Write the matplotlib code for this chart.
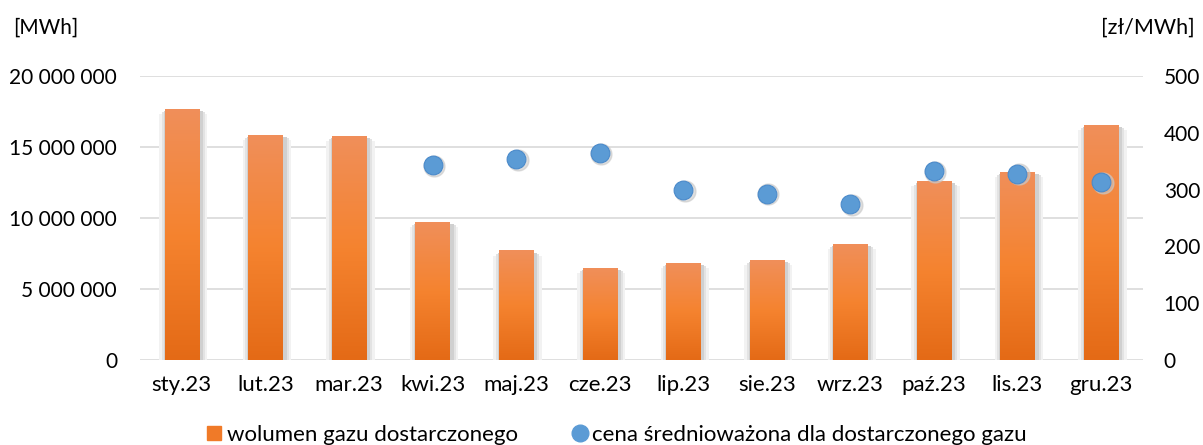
import numpy as np
import matplotlib
matplotlib.use("Agg")
import matplotlib.pyplot as plt
from matplotlib.colors import LinearSegmentedColormap
from matplotlib.patches import Rectangle
from matplotlib.ticker import FuncFormatter
from matplotlib.lines import Line2D

plt.rcParams['font.family'] = ['Lato', 'DejaVu Sans']

months = ['sty.23', 'lut.23', 'mar.23', 'kwi.23', 'maj.23', 'cze.23',
          'lip.23', 'sie.23', 'wrz.23', 'paź.23', 'lis.23', 'gru.23']
volume = [17680000, 15850000, 15770000, 9720000, 7680000, 6480000,
          6830000, 7040000, 8170000, 12560000, 13240000, 16550000]
price = [np.nan, np.nan, np.nan, 343, 354, 364, 299, 293, 275, 333, 328, 313]

vol_label = 'wolumen gazu dostarczonego'
price_label = 'cena średnioważona dla dostarczonego gazu'

fig = plt.figure(figsize=(12.03, 4.45), dpi=100)
ax = fig.add_axes([0.1164, 0.191, 0.8336, 0.638])
x = np.arange(len(months))
w = 0.41
px = 1.0 / 83.6  # one pixel in data x units

cmap = LinearSegmentedColormap.from_list('og', ['#E46A16', '#F5832F', '#F08F5A'])
grad = np.linspace(0, 1, 256).reshape(-1, 1)

ax.set_ylim(0, 20000000)
ax.set_xlim(-0.5, len(months) - 0.5)
ypx = 20000000 / 284.0

for xi, v in zip(x, volume):
    # soft shadow
    for k, (extra, col) in enumerate([(14, '#f2f2f2'), (9, '#e3e3e3'), (5, '#d0d0d0')]):
        ax.add_patch(Rectangle((xi - w / 2 - extra * px / 2 + 1.5 * px, -ypx * 3),
                               w + extra * px, v - ypx * (extra / 3 - 3), color=col,
                               lw=0, zorder=1.5 + k * 0.1))
    ax.imshow(grad, extent=[xi - w / 2, xi + w / 2, 0, v], origin='lower',
              cmap=cmap, aspect='auto', zorder=2, interpolation='bilinear')

ax.set_ylim(0, 20000000)
ax.set_xlim(-0.5, len(months) - 0.5)
ax.set_yticks(np.arange(0, 20000001, 5000000))
ax.yaxis.set_major_formatter(FuncFormatter(lambda v, p: f'{int(v):,}'.replace(',', ' ')))
ax.set_xticks(x)
ax.set_xticklabels(months)
ax.grid(axis='y', color='#d9d9d9', lw=1.2, zorder=0)
ax.set_axisbelow(True)
for s in ax.spines.values():
    s.set_visible(False)
ax.tick_params(axis='both', length=0, colors='#000000')
ax.tick_params(axis='y', pad=16.5, labelsize=15)
ax.tick_params(axis='x', pad=11, labelsize=16)

ax2 = ax.twinx()
ax2.set_ylim(0, 500)
ax2.set_yticks(np.arange(0, 501, 100))
for s in ax2.spines.values():
    s.set_visible(False)
ax2.tick_params(axis='y', length=0, labelsize=15, pad=15)
ax2.plot(x + 1.5 * px, np.array(price) - 1.2, 'o', ms=15, color='#c9c9c9', alpha=0.6, zorder=3, lw=0)
ax2.plot(x, price, 'o', ms=13.5, color='#5B9BD5', mec='#4A8ACB', mew=0.8, zorder=4, lw=0)

fig.text(0.011, 0.937, '[MWh]', fontsize=15, ha='left', va='center')
fig.text(0.993, 0.937, '[zł/MWh]', fontsize=15.5, ha='right', va='center')

handles = [Line2D([], [], marker='s', ls='', ms=10, color='#F07A28'),
           Line2D([], [], marker='o', ls='', ms=12, color='#5B9BD5')]
fig.legend(handles, [vol_label, price_label], loc='center left', bbox_to_anchor=(0.169, 0.022),
           ncol=2, frameon=False, fontsize=16, handletextpad=0.05, columnspacing=2.3,
           handlelength=1.0, borderpad=0, borderaxespad=0)

fig.savefig('out.png', dpi=100)
